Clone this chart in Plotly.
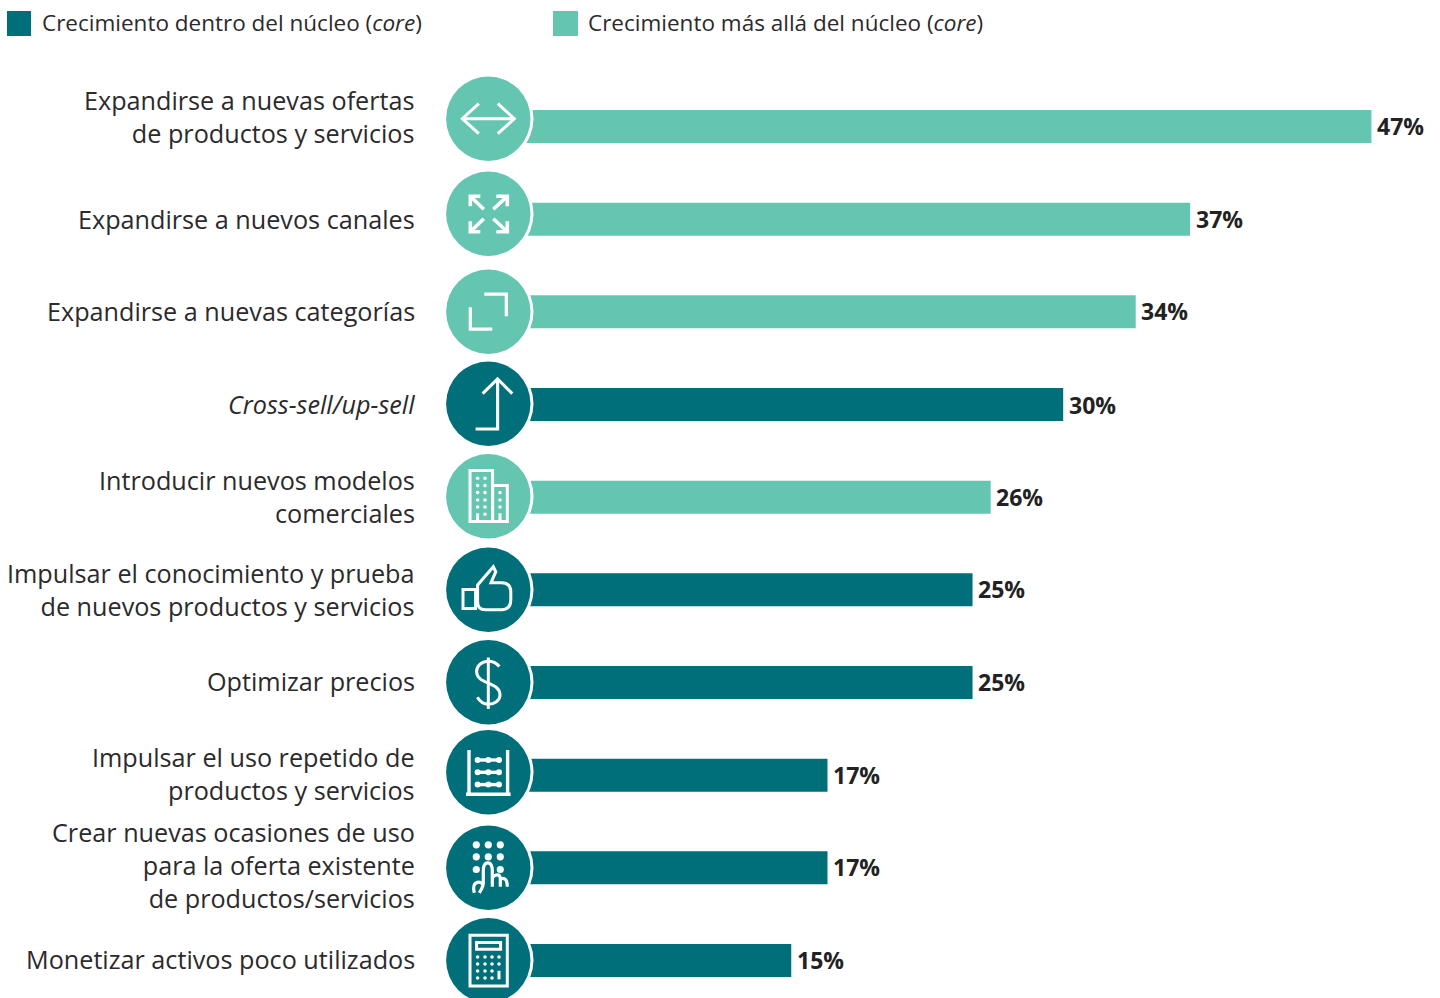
import re
import plotly.graph_objects as go

W, H = 1440, 998
DARK = "#006F7A"
LIGHT = "#64C5B1"
INK = "#2B2A2C"
FONT = "Open Sans"

# ---- data ----
categories = [
    "Expandirse a nuevas ofertas<br>de productos y servicios",
    "Expandirse a nuevos canales",
    "Expandirse a nuevas categorías",
    "<i>Cross-sell/up-sell</i>",
    "Introducir nuevos modelos<br>comerciales",
    "Impulsar el conocimiento y prueba<br>de nuevos productos y servicios",
    "Optimizar precios",
    "Impulsar el uso repetido de<br>productos y servicios",
    "Crear nuevas ocasiones de uso<br>para la oferta existente<br>de productos/servicios",
    "Monetizar activos poco utilizados",
]
values = [47, 37, 34, 30, 26, 25, 25, 17, 17, 15]
beyond_core = [True, True, True, False, True, False, False, False, False, False]
legend_inside = "Crecimiento dentro del núcleo (<i>core</i>)"
legend_beyond = "Crecimiento más allá del núcleo (<i>core</i>)"

# ---- layout constants (pixels on the 1440x998 page) ----
PX_PER_UNIT = 18.13
ZERO_X = 519.3
ROW0_Y = 126.5
ROW_STEP = 92.67
BAR_H = 33
label_shift = [10.5, 0.5, 0.5, 0.5, 1, 0.5, 1.5, 2, 2.5, 1.5]
value_shift = [1, 0, 1, 0, 0, 1, 1, 0, 1, 1]
circle_y = [118.7, 213.7, 311.7, 403.7, 496.3, 589.7, 682.2, 772.3, 867.8, 960.3]
CIRCLE_X = 488.3
CIRCLE_R = 42.2


def px(x):
    return x / W


def py(y):
    return 1 - y / H


def path_at(cx, cy, d):
    """Move a path written in local pixels to its place, in paper coordinates."""
    out, is_x = [], True
    for tok in re.findall(r"[MLCQZ]|-?\d+\.?\d*", d):
        if tok.isalpha():
            out.append(tok)
            is_x = True
        else:
            v = float(tok)
            out.append(f"{px(cx + v):.5f}" if is_x else f"{py(cy + v):.5f}")
            is_x = not is_x
    return " ".join(out)


def rect(x0, y0, x1, y1):
    return f"M {x0} {y0} L {x1} {y0} L {x1} {y1} L {x0} {y1} Z"


def grid(xs, ys, skip=()):
    return [(x, y) for y in ys for x in xs if (x, y) not in skip]


# Pictograms: stroked paths, stroke width and dots (x, y, r) per row
icons = [
    dict(w=3, paths=["M -26 0 L 26 0", "M -9.5 -15 L -26 0 L -9.5 15", "M 9.5 -15 L 26 0 L 9.5 15"]),
    dict(w=3.6, paths=[
        "M -8 -17.5 L -18 -17.5 L -18 -7.5", "M -18 -17.5 L -4.5 -4.5",
        "M 8 -17.5 L 19 -17.5 L 19 -7.5", "M 19 -17.5 L 5 -4.5",
        "M -18 7.5 L -18 18 L -8 18", "M -18 18 L -4.5 5",
        "M 19 7.5 L 19 18 L 8 18", "M 19 18 L 5 5",
    ]),
    dict(w=3.2, paths=["M -4 -17.5 L 18 -17.5 L 18 4.5", "M -18 -4.5 L -18 17.5 L 4 17.5"]),
    dict(w=3.1, paths=["M -12.7 25.3 L 9.3 25.3 L 9.3 -24.7", "M -5.7 -10 L 9.3 -24.7 L 24 -10"]),
    dict(w=3, paths=[
        rect(-18.3, -25.7, 4.3, 25.3), rect(4.3, -10.7, 19, 25.3),
        "M -10.7 25 L -10.7 17", "M 11.7 25 L 11.7 17",
    ], dots=[(x, y, 1.8) for x, y in grid([-10.7, -3.3], [-18, -10.7, -3.7, 3.7, 10.7])]
       + [(-3.3, 18, 1.8)]
       + [(11.7, y, 1.8) for y in [-3.7, 3.7, 10.7]]),
    dict(w=3, paths=[
        rect(-25.3, -0.3, -12.7, 18.7),
        "M -10.7 -4.7 L 5 -23 L 7.5 -18 L 2.7 -7 L 13 -7 Q 22.5 -7 22.5 2 L 22.5 10 "
        "Q 22.5 20 13 20 L -3 20 Q -10.7 20 -10.7 12 Z",
    ]),
    dict(w=3, paths=[
        "M 0 -24.7 L 0 26.7",
        "M 11 -15.7 C 7 -21 3 -21 0 -21 C -7 -21 -11.7 -16 -11.7 -10.7 C -11.7 -4 -6 -1.5 0 1 "
        "C 6 3.5 11.7 6 11.7 12.7 C 11.7 18.5 6 22 0 22 C -4 22 -8 20 -11 15",
    ]),
    dict(w=3.4, paths=[
        "M -19.3 -22.3 L -19.3 22", "M 19.3 -22.3 L 19.3 22", "M -22.3 22 L 22.3 22",
        "M -12 -12.3 L 12 -12.3", "M -12 0 L 12 0", "M -12 12.3 L 12 12.3",
    ], dots=[(x, y, 3) for x, y in grid([-10.7, 0, 10.7], [-12.3, 0, 12.3])]),
    dict(w=3.2, paths=[
        "M -5 17 L -5 3 Q -5 -5 -0.5 -5 Q 4 -5 4 3 L 4 19",
        "M 4 10 Q 6 7 9 7 Q 12 7 12 11 L 12 19",
        "M 12 12 Q 14 10 16 11 Q 19 12 19 19",
        "M -5 17 Q -8 13 -12 15 Q -16 17 -14 25",
        "M -5 17 Q -7 22 -9 25",
    ], dots=[(x, y, 3.6) for x, y in grid([-12, 0, 12], [-23, -11, 1.7], skip={(0, 1.7)})]),
    dict(w=3, paths=[
        rect(-18.3, -25, 19, 25.7), rect(-11.7, -17.7, 12.3, -11),
        "M 10.7 10.5 L 10.7 19",
    ], dots=[(x, y, 1.8) for x, y in grid([-10.7, -3.3, 3.7, 10.7], [-3.3, 3.7])]
       + [(x, y, 1.8) for x, y in grid([-10.7, -3.3, 3.7], [10.7, 17.7])]),
]


def disc(cx, cy, r, color):
    return dict(type="circle", xref="paper", yref="paper", layer="above",
                x0=px(cx - r), x1=px(cx + r), y0=py(cy + r), y1=py(cy - r),
                fillcolor=color, line=dict(width=0))


def square(x0, y0, x1, y1, color):
    return dict(type="rect", xref="paper", yref="paper", layer="above",
                x0=px(x0), x1=px(x1), y0=py(y1), y1=py(y0),
                fillcolor=color, line=dict(width=0))


shapes = []
for beyond, cy, icon in zip(beyond_core, circle_y, icons):
    shapes.append(disc(CIRCLE_X + 0.7, cy, 44.5, "white"))
    shapes.append(disc(CIRCLE_X, cy, CIRCLE_R, LIGHT if beyond else DARK))
    for d in icon["paths"]:
        shapes.append(dict(type="path", xref="paper", yref="paper", layer="above",
                           path=path_at(CIRCLE_X, cy, d),
                           line=dict(color="white", width=icon["w"])))
    for x, y, r in icon.get("dots", []):
        shapes.append(disc(CIRCLE_X + x, cy + y, r, "white"))

shapes.append(square(7, 11, 31, 36, DARK))
shapes.append(square(553, 11, 578, 36, LIGHT))

fig = go.Figure()
for flag, color, name in [(True, LIGHT, legend_beyond), (False, DARK, legend_inside)]:
    rows = [i for i, b in enumerate(beyond_core) if b == flag]
    fig.add_trace(go.Bar(
        orientation="h",
        name=name,
        y=[categories[i] for i in rows],
        x=[values[i] for i in rows],
        width=BAR_H / ROW_STEP,
        marker=dict(color=color, line=dict(width=0)),
        hoverinfo="skip",
    ))

annotations = [
    dict(xref="paper", yref="y", x=px(416.5), y=cat, yshift=shift, text=cat,
         xanchor="right", yanchor="middle", align="right", showarrow=False,
         font=dict(family=FONT, size=25.2, color=INK))
    for cat, shift in zip(categories, label_shift)
]
# Value labels sit a few pixels past the end of each bar
annotations += [
    dict(xref="x", yref="y", x=val, y=cat, xshift=3.5, yshift=shift, text=f"{val}%",
         xanchor="left", yanchor="middle", showarrow=False,
         font=dict(family=FONT, size=23, color="#222222", weight=700))
    for cat, val, shift in zip(categories, values, value_shift)
]
for x, text in [(40, legend_inside), (586, legend_beyond)]:
    annotations.append(dict(xref="paper", yref="paper", x=px(x), y=py(22.5), text=text,
                            xanchor="left", yanchor="middle", showarrow=False,
                            font=dict(family=FONT, size=22.5, color=INK)))

fig.update_layout(
    width=W, height=H,
    margin=dict(l=0, r=0, t=0, b=0),
    paper_bgcolor="white", plot_bgcolor="white",
    barmode="overlay",
    showlegend=False,
    shapes=shapes,
    annotations=annotations,
    xaxis=dict(visible=False,
               range=[-ZERO_X / PX_PER_UNIT, (W - ZERO_X) / PX_PER_UNIT]),
    yaxis=dict(visible=False, type="category",
               categoryorder="array", categoryarray=categories,
               range=[(H - ROW0_Y) / ROW_STEP, -ROW0_Y / ROW_STEP]),
)

fig.write_html("out.html")
